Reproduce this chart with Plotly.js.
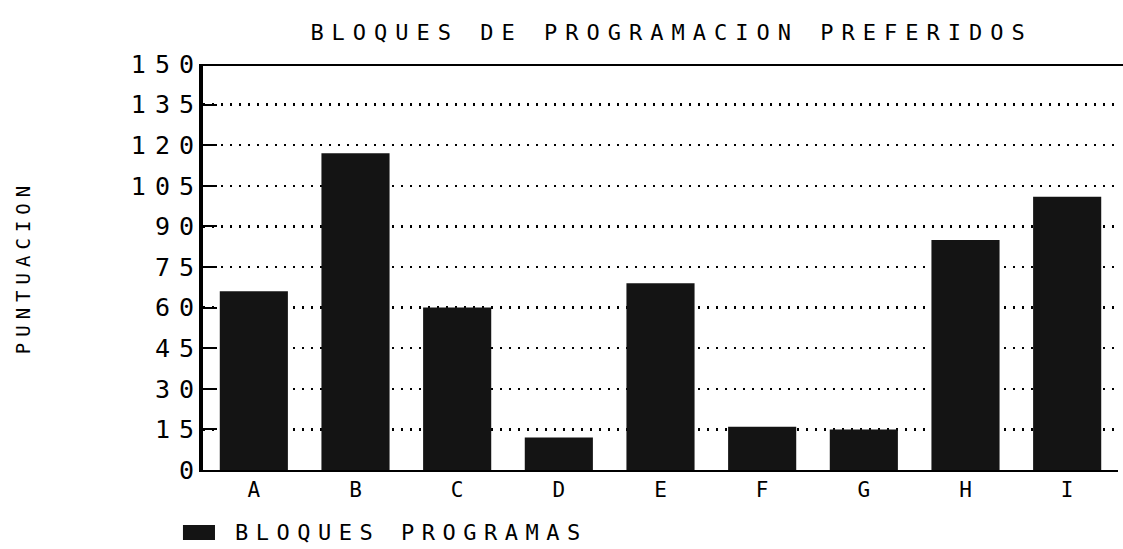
<!DOCTYPE html>
<html>
<head>
<meta charset="utf-8">
<script src="https://cdn.plot.ly/plotly-3.0.1.min.js"></script>
<style>
  html, body { margin: 0; padding: 0; background: #fff; }
  #chart { width: 1123px; height: 549px; }
  .gtitle { letter-spacing: 8px; }
  .ytick text { letter-spacing: 9px; }
  .g-ytitle text { letter-spacing: 6px; }
  .annotation-text { letter-spacing: 7.5px; }
</style>
</head>
<body>
<div id="chart"></div>
<script>
const categories = ['A', 'B', 'C', 'D', 'E', 'F', 'G', 'H', 'I'];
const puntuacion = [66, 117, 60, 12, 69, 16, 15, 85, 101];
const yTicks = [0, 15, 30, 45, 60, 75, 90, 105, 120, 135, 150];
const seriesName = 'BLOQUES PROGRAMAS';
const chartTitle = 'BLOQUES DE PROGRAMACION PREFERIDOS';
const yTitle = 'PUNTUACION';

const FONT = '"DejaVu Sans Mono", "Liberation Mono", monospace';
const BAR_COLOR = '#141414';

const trace = {
  type: 'bar',
  x: categories,
  y: puntuacion,
  name: seriesName,
  marker: {
    color: BAR_COLOR,
    line: { width: 0 }
  },
  hoverinfo: 'x+y'
};

const layout = {
  width: 1123,
  height: 549,
  margin: { l: 203, r: 5, t: 64, b: 79, autoexpand: false },
  paper_bgcolor: '#ffffff',
  plot_bgcolor: '#ffffff',
  bargap: 0.33,
  font: { family: FONT, color: '#000' },
  title: {
    text: chartTitle,
    font: { family: FONT, size: 22, color: '#000' },
    xref: 'container', x: 0.598, xanchor: 'center',
    yref: 'container', y: 0.942, yanchor: 'middle'
  },
  xaxis: {
    type: 'category',
    showline: true, linecolor: '#000', linewidth: 2,
    showgrid: false, ticks: '',
    tickfont: { family: FONT, size: 21, color: '#000' },
    fixedrange: true
  },
  yaxis: {
    range: [0, 150],
    tickvals: yTicks,
    ticktext: yTicks.map(String),
    showline: true, linecolor: '#000', linewidth: 4,
    ticks: 'inside', ticklen: 14, tickwidth: 2, tickcolor: '#000',
    showgrid: true, gridcolor: '#000', gridwidth: 2.5, griddash: '2px,7px',
    zeroline: false,
    tickfont: { family: FONT, size: 25, color: '#000' },
    title: {
      text: yTitle,
      font: { family: FONT, size: 19, color: '#000' },
      standoff: 87
    },
    automargin: false,
    fixedrange: true
  },
  shapes: [
    {
      type: 'line', xref: 'paper', yref: 'y',
      x0: 0, x1: 1.006, y0: 150, y1: 150,
      line: { color: '#000', width: 4 }
    },
    {
      type: 'rect', xref: 'paper', yref: 'paper',
      x0: -0.0219, x1: 0.0131, y0: -0.1355, y1: -0.1724,
      fillcolor: BAR_COLOR, line: { width: 0 }
    }
  ],
  annotations: [{
    xref: 'paper', yref: 'paper',
    x: 0.0328, xanchor: 'left',
    y: -0.153, yanchor: 'middle',
    text: seriesName, showarrow: false,
    font: { family: FONT, size: 22, color: '#000' }
  }],
  showlegend: false
};

Plotly.newPlot('chart', [trace], layout, { displayModeBar: false, staticPlot: true }).then(function (gd) {
  gd.querySelectorAll('.ytick text').forEach(function (t) { t.setAttribute('dx', '9'); });
});
</script>
</body>
</html>
